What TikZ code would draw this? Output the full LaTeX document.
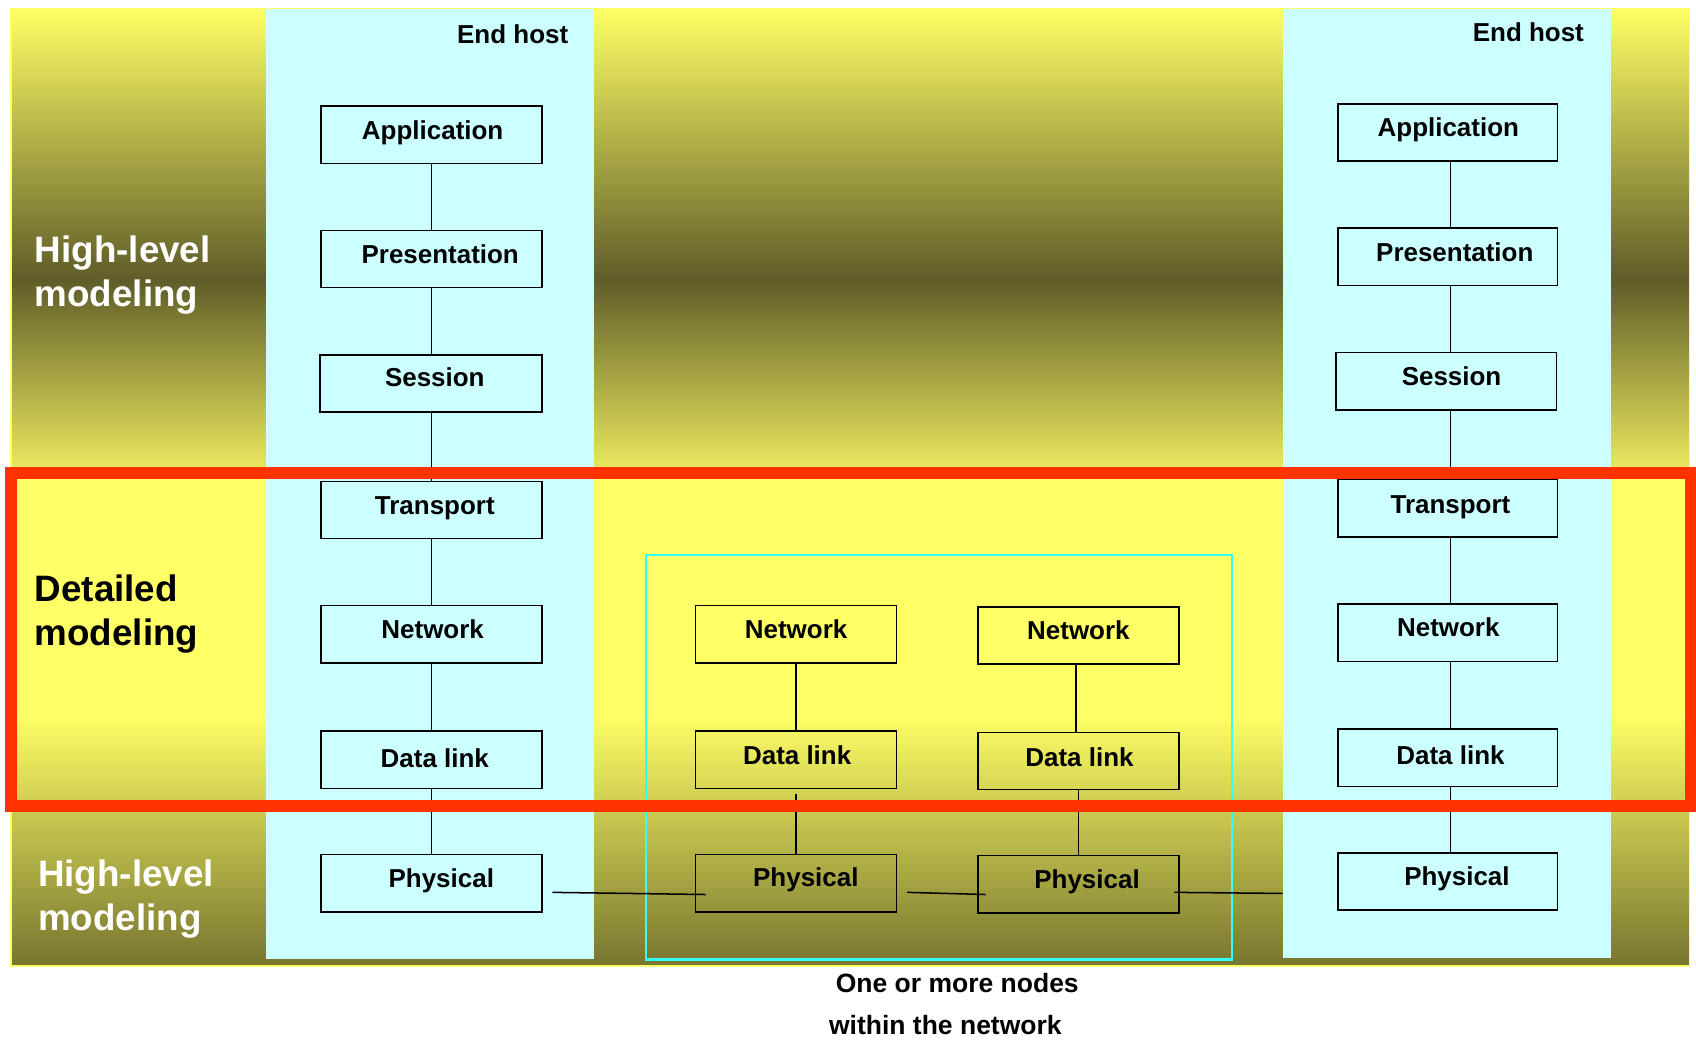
\documentclass[tikz,border=0pt]{standalone}
\usepackage{fontspec}
\setmainfont{Liberation Sans}
\usetikzlibrary{calc}

\definecolor{bgyellow}{HTML}{FFFF66}
\definecolor{bgmid}{HTML}{F0EE60}
\definecolor{bgdark}{HTML}{5F5C28}
\definecolor{bgbottom}{HTML}{77752F}
\definecolor{hostcyan}{HTML}{CCFFFF}
\definecolor{netcyan}{HTML}{33FFFF}
\definecolor{redframe}{HTML}{FF3300}

\begin{document}
\begin{tikzpicture}[x=1pt,y=-1pt,
  hostcol/.style={fill=hostcyan, draw=none, inner sep=0pt, minimum width=303pt},
  layer/.style={draw=black, line width=1.4pt, inner sep=0pt, minimum height=53pt},
  hostlayer/.style={layer, fill=hostcyan, minimum width=204pt},
  netlayer/.style={layer, minimum width=186pt},
  link/.style={draw=black, line width=1.4pt},
  lbl/.style={font=\bfseries\fontsize{24}{28}\selectfont, anchor=base, inner sep=0pt},
  side/.style={font=\bfseries\fontsize{34}{40}\selectfont, anchor=base west, inner sep=0pt},
  caption/.style={font=\bfseries\fontsize{24.5}{28}\selectfont, anchor=base, inner sep=0pt}]

\useasboundingbox[fill=white] (0,0) rectangle (1568,962);

% layered yellow / olive background
\shade[top color=bgyellow, bottom color=bgdark] (10,8) rectangle (1562,258.5);
\shade[top color=bgdark, bottom color=bgmid] (10,258) rectangle (1562,440.5);
\fill[bgyellow] (10,440) rectangle (1562,660.5);
\shade[top color=bgyellow, bottom color=bgbottom] (10,660) rectangle (1562,893);
\draw[bgyellow, line width=1.5pt] (10,8) rectangle (1562,893);

% end-host columns
\node[hostcol, minimum height=879pt] (lcol) at (397.5,447.5) {};
\node[hostcol, minimum height=878pt] (rcol) at (1337.5,447) {};
\node[lbl] (lhost) at (474,40.6) {End host};
\node[lbl] (rhost) at (1413,38.6) {End host};

% network nodes frame
\node[draw=netcyan, line width=2pt, inner sep=0pt, minimum width=542pt, minimum height=374pt] (net) at (868,700) {};

% left end-host stack
\node[hostlayer] (lapp) at (399,124.5) {};
\node[hostlayer] (lpre) at (399,239.5) {};
\node[hostlayer, minimum width=205pt] (lses) at (398.5,354.5) {};
\node[hostlayer] (ltra) at (399,471.5) {};
\node[hostlayer] (lnet) at (399,586.5) {};
\node[hostlayer] (ldat) at (399,702.5) {};
\node[hostlayer] (lphy) at (399,816.5) {};

% right end-host stack
\node[hostlayer, minimum width=203pt] (rapp) at (1338.5,122.5) {};
\node[hostlayer, minimum width=203pt] (rpre) at (1338.5,237.5) {};
\node[hostlayer] (rses) at (1337,352.5) {};
\node[hostlayer, minimum width=203pt] (rtra) at (1338.5,470) {};
\node[hostlayer, minimum width=203pt] (rnet) at (1338.5,585) {};
\node[hostlayer, minimum width=203pt] (rdat) at (1338.5,700.5) {};
\node[hostlayer, minimum width=203pt] (rphy) at (1338.5,815) {};

% intermediate nodes
\node[netlayer] (mnet1) at (736,586.5) {};
\node[netlayer] (mdat1) at (736,702.5) {};
\node[netlayer] (mphy1) at (736,816.5) {};
\node[netlayer] (mnet2) at (997,587.5) {};
\node[netlayer] (mdat2) at (997,703.5) {};
\node[netlayer] (mphy2) at (997,817.5) {};

% vertical links
\draw[link] (lapp.south) -- (lpre.north);
\draw[link] (lpre.south) -- (lses.north -| lpre.south);
\draw[link] (lses.south -| lpre.south) -- (ltra.north);
\draw[link] (ltra.south) -- (lnet.north);
\draw[link] (lnet.south) -- (ldat.north);
\draw[link] (ldat.south) -- (lphy.north);

\coordinate (rx) at (1341,0);
\draw[link] (rapp.south -| rx) -- (rpre.north -| rx);
\draw[link] (rpre.south -| rx) -- (rses.north -| rx);
\draw[link] (rses.south -| rx) -- (rtra.north -| rx);
\draw[link] (rtra.south -| rx) -- (rnet.north -| rx);
\draw[link] (rnet.south -| rx) -- (rdat.north -| rx);
\draw[link] (rdat.south -| rx) -- (rphy.north -| rx);

\draw[link] (mnet1.south) -- (mdat1.north);
\draw[link] ($(mdat1.south)+(0,4)$) -- (mphy1.north);
\draw[link] ($(mnet2.south)+(-2,0)$) -- ($(mdat2.north)+(-2,0)$);
\draw[link] (mdat2.south) -- (mphy2.north);

% physical links
\draw[link] ($(lphy.east)+(9,8.5)$) -- ($(mphy1.west)+(10,10.5)$);
\draw[link] ($(mphy1.east)+(9,8.5)$) -- ($(mphy2.west)+(8,9.5)$);
\draw[link] ($(mphy2.east)+(-5,7.5)$) -- ($(rcol.west |- mphy2.center)+(0,8.5)$);

% layer labels
\node[lbl] (lapp-t) at (400,128.6) {Application};
\node[lbl] (lpre-t) at (407,243.6) {Presentation};
\node[lbl] (lses-t) at (402,357.6) {Session};
\node[lbl] (ltra-t) at (402,475.6) {Transport};
\node[lbl] (lnet-t) at (400,590.6) {Network};
\node[lbl] (ldat-t) at (402,709.6) {Data link};
\node[lbl] (lphy-t) at (408,820.6) {Physical};

\node[lbl] (rapp-t) at (1339,126.6) {Application};
\node[lbl] (rpre-t) at (1345,241.6) {Presentation};
\node[lbl] (rses-t) at (1342,356.6) {Session};
\node[lbl] (rtra-t) at (1341,474.6) {Transport};
\node[lbl] (rnet-t) at (1339,588.6) {Network};
\node[lbl] (rdat-t) at (1341,706.6) {Data link};
\node[lbl] (rphy-t) at (1347,818.6) {Physical};

\node[lbl] (mnet1-t) at (736,590.6) {Network};
\node[lbl] (mdat1-t) at (737,706.6) {Data link};
\node[lbl] (mphy1-t) at (745,819.6) {Physical};
\node[lbl] (mnet2-t) at (997,591.6) {Network};
\node[lbl] (mdat2-t) at (998,708.6) {Data link};
\node[lbl] (mphy2-t) at (1005,821.6) {Physical};

% side labels
\node[side, text=white] (hl1a) at (32,243) {High-level};
\node[side, text=white] (hl1b) at (32,283) {modeling};
\node[side] (dm1) at (32,556) {Detailed};
\node[side] (dm2) at (32,597) {modeling};
\node[side, text=white] (hl2a) at (35,820) {High-level};
\node[side, text=white] (hl2b) at (35,860) {modeling};

% caption
\node[caption] (cap1) at (885,917.5) {One or more nodes};
\node[caption] (cap2) at (874,956.5) {within the network};

% detailed-modeling frame
\draw[redframe, line width=11pt] (10.5,437.5) rectangle (1563,745);

\end{tikzpicture}
\end{document}
